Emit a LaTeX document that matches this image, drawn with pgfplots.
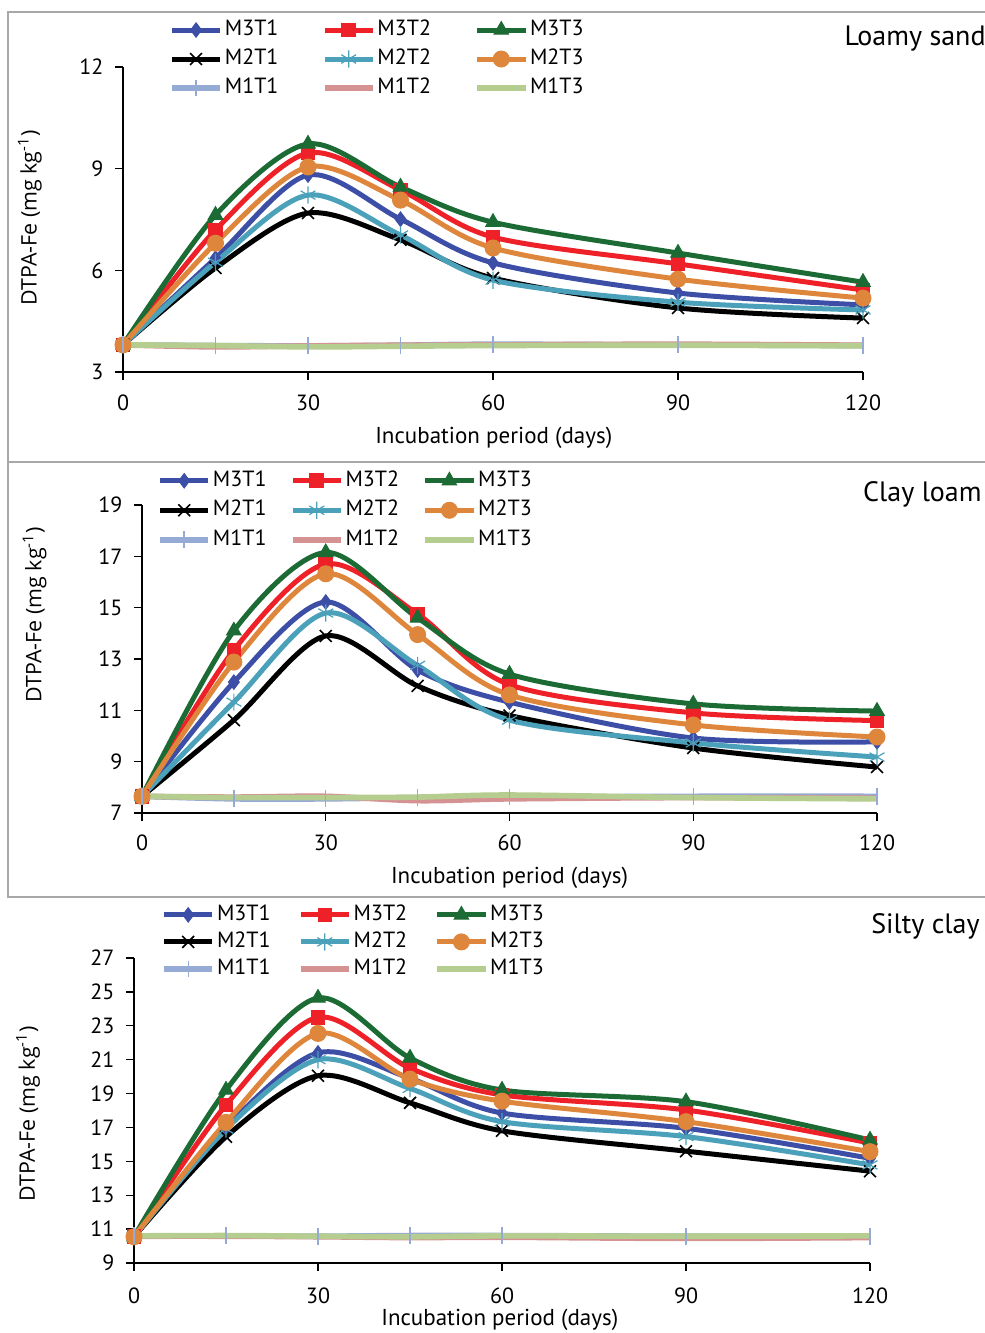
\documentclass[border=0pt]{standalone}
\usepackage{fontspec}
\setmainfont{PT Sans}
\newfontfamily\ylabfont{Open Sans}
\usepackage{pgfplots}
\pgfplotsset{compat=1.18}
\definecolor{cA}{HTML}{3C4EA5}
\definecolor{cB}{HTML}{EE2028}
\definecolor{cC}{HTML}{1C6B34}
\definecolor{cD}{HTML}{000000}
\definecolor{cE}{HTML}{4BA1BA}
\definecolor{cF}{HTML}{DE873C}
\definecolor{cG}{HTML}{95AAD5}
\definecolor{cH}{HTML}{D49292}
\definecolor{cI}{HTML}{B5CD8F}
\definecolor{frame}{HTML}{A8A8A8}
\pgfplotsset{
 panel/.style={
  scale only axis,
  axis x line*=bottom, axis y line*=left,
  tick align=outside,
  major tick length=4pt,
  every tick/.style={black, line width=0.7pt},
  axis line style={black, line width=1pt},
  xmin=0, xmax=120, xtick={0,30,60,90,120},
  clip=false,
  tick label style={font=\fontsize{11}{13}\selectfont},
  /pgf/number format/assume math mode=true,
  xlabel={Incubation period (days)},
  xlabel style={font=\fontsize{11.5}{13}\selectfont, anchor=center},
  ylabel={\ylabfont DTPA-Fe (mg kg\textsuperscript{-1})},
  ylabel style={font=\fontsize{10.7}{12}\selectfont, anchor=center},
  yticklabel style={xshift=-2.3pt},
  legend columns=3,
  legend cell align=left,
  legend style={draw=none, fill=none, anchor=north west, inner sep=0pt,
    font=\fontsize{11}{13}\selectfont, column sep=0pt,
    /tikz/every odd column/.append style={column sep=1pt}},
  legend image code/.code={\draw[mark repeat=2,mark phase=2,#1] plot coordinates {(0pt,0pt) (12pt,0pt) (24pt,0pt)};},
 },
 sA/.style={color=cA, line width=2.5pt, smooth, tension=0.5, mark=diamond*, mark size=3.6pt, mark options={line width=0.5pt, fill=cA}},
 sB/.style={color=cB, line width=2.5pt, smooth, tension=0.5, mark=square*, mark size=3.4pt, mark options={line width=0.5pt, fill=cB}},
 sC/.style={color=cC, line width=2.5pt, smooth, tension=0.5, mark=triangle*, mark size=4.2pt, mark options={line width=0.5pt, fill=cC}},
 sD/.style={color=cD, line width=2.5pt, smooth, tension=0.5, mark=x, mark size=4.2pt, mark options={line width=0.8pt}},
 sE/.style={color=cE, line width=2.5pt, smooth, tension=0.5, mark=asterisk, mark size=4.3pt, mark options={line width=0.6pt}},
 sF/.style={color=cF, line width=2.5pt, smooth, tension=0.5, mark=*, mark size=4pt, mark options={line width=0.5pt, fill=cF}},
 sG/.style={color=cG, line width=2.8pt, smooth, tension=0.5, mark=|, mark size=4.2pt, mark options={line width=0.7pt}},
 sH/.style={color=cH, line width=2.8pt, smooth, tension=0.5},
 sI/.style={color=cI, line width=2.8pt, smooth, tension=0.5},
}
\pgfplotstableread{
x   A     B     C     D     E     F     G     H     I
0   3.80  3.80  3.80  3.80  3.80  3.80  3.80  3.80  3.80
15  6.36  7.19  7.63  6.07  6.24  6.80  3.78  3.74  3.78
30  8.81  9.46  9.73  7.69  8.22  9.05  3.77  3.77  3.74
45  7.51  8.37  8.46  6.90  7.04  8.07  3.79  3.79  3.76
60  6.22  6.98  7.42  5.77  5.71  6.66  3.82  3.80  3.78
90  5.33  6.19  6.51  4.89  5.06  5.74  3.80  3.82  3.79
120 4.98  5.42  5.65  4.59  4.83  5.18  3.78  3.79  3.77
}\loamy
\pgfplotstableread{
x   A     B     C     D     E     F     G     H     I
0   7.65  7.65  7.65  7.65  7.65  7.65  7.65  7.65  7.65
15  12.10 13.35 14.10 10.62 11.32 12.88 7.55  7.62  7.60
30  15.22 16.70 17.15 13.90 14.79 16.32 7.55  7.65  7.60
45  12.57 14.75 14.60 11.95 12.75 13.95 7.60  7.48  7.62
60  11.32 12.00 12.41 10.80 10.62 11.60 7.62  7.55  7.70
90  9.92  10.90 11.25 9.53  9.73  10.43 7.65  7.60  7.60
120 9.77  10.60 10.97 8.79  9.18  9.96  7.65  7.58  7.55
}\clay
\pgfplotstableread{
x   A     B     C     D     E     F     G     H     I
0   10.55 10.55 10.55 10.55 10.55 10.55 10.60 10.58 10.60
15  17.00 18.33 19.21 16.45 16.90 17.30 10.60 10.58 10.62
30  21.40 23.50 24.64 20.05 21.00 22.55 10.58 10.55 10.58
45  19.90 20.50 21.10 18.45 19.30 19.85 10.62 10.50 10.55
60  17.85 18.92 19.21 16.80 17.34 18.55 10.62 10.52 10.60
90  16.95 18.03 18.52 15.60 16.46 17.34 10.58 10.45 10.58
120 15.18 16.08 16.26 14.42 14.79 15.57 10.58 10.50 10.60
}\silty
\begin{document}
\begin{tikzpicture}
\useasboundingbox (0,0) rectangle (492.5pt,666.5pt);
\draw[frame, line width=1pt] (4pt,435.5pt) rectangle (500pt,660.5pt);
\draw[frame, line width=1pt] (4pt,218pt) rectangle (500pt,435.5pt);
\node[anchor=base east, font=\fontsize{14}{16}\selectfont, inner sep=0pt] at (493pt,643.5pt) {Loamy sand};
\node[anchor=base east, font=\fontsize{14}{16}\selectfont, inner sep=0pt] at (491pt,415.5pt) {Clay loam};
\node[anchor=base east, font=\fontsize{14}{16}\selectfont, inner sep=0pt] at (490pt,199.5pt) {Silty clay};
% Panel 1
\begin{axis}[panel, at={(61.5pt,480.5pt)}, anchor=origin,
  width=370pt, height=152.5pt, ymin=3, ymax=12, ytick={3,6,9,12},
  xlabel style={at={(axis description cs:0.501,-0.216)}},
  ylabel style={at={(axis description cs:-0.126,0.505)}},
  xticklabel style={yshift=-4pt},
  legend style={at={(axis description cs:0.062,1.157)}, row sep=4pt,
    nodes={inner sep=0pt, text height=8pt, text depth=2.5pt, text width=48.5pt}}]
\addplot[sA] table[x=x,y=A]{\loamy}; \addlegendentry{M3T1}
\addplot[sB] table[x=x,y=B]{\loamy}; \addlegendentry{M3T2}
\addplot[sC] table[x=x,y=C]{\loamy}; \addlegendentry{M3T3}
\addplot[sD] table[x=x,y=D]{\loamy}; \addlegendentry{M2T1}
\addplot[sE] table[x=x,y=E]{\loamy}; \addlegendentry{M2T2}
\addplot[sF] table[x=x,y=F]{\loamy}; \addlegendentry{M2T3}
\addplot[sG] table[x=x,y=G]{\loamy}; \addlegendentry{M1T1}
\addplot[sH] table[x=x,y=H]{\loamy}; \addlegendentry{M1T2}
\addplot[sI] table[x=x,y=I]{\loamy}; \addlegendentry{M1T3}
\end{axis}
% Panel 2
\begin{axis}[panel, at={(71pt,260pt)}, anchor=origin,
  width=367.5pt, height=154pt, ymin=7, ymax=19, ytick={7,9,11,13,15,17,19},
  xlabel style={at={(axis description cs:0.5,-0.211)}},
  ylabel style={at={(axis description cs:-0.146,0.643)}},
  xticklabel style={yshift=-3.3pt},
  legend style={at={(axis description cs:0.0204,1.114)}, row sep=4.25pt,
    nodes={inner sep=0pt, text height=8pt, text depth=2.5pt, text width=38.5pt}}]
\addplot[sA] table[x=x,y=A]{\clay}; \addlegendentry{M3T1}
\addplot[sB] table[x=x,y=B]{\clay}; \addlegendentry{M3T2}
\addplot[sC] table[x=x,y=C]{\clay}; \addlegendentry{M3T3}
\addplot[sD] table[x=x,y=D]{\clay}; \addlegendentry{M2T1}
\addplot[sE] table[x=x,y=E]{\clay}; \addlegendentry{M2T2}
\addplot[sF] table[x=x,y=F]{\clay}; \addlegendentry{M2T3}
\addplot[sG] table[x=x,y=G]{\clay}; \addlegendentry{M1T1}
\addplot[sH] table[x=x,y=H]{\clay}; \addlegendentry{M1T2}
\addplot[sI] table[x=x,y=I]{\clay}; \addlegendentry{M1T3}
\end{axis}
% Panel 3
\begin{axis}[panel, at={(67pt,35pt)}, anchor=origin,
  width=368pt, height=152.5pt, ymin=9, ymax=27, ytick={9,11,13,15,17,19,21,23,25,27},
  xlabel style={at={(axis description cs:0.497,-0.187)}},
  ylabel style={at={(axis description cs:-0.144,0.489)}},
  xticklabel style={yshift=-5pt},
  legend style={at={(axis description cs:0.0367,1.177)}, row sep=3pt,
    nodes={inner sep=0pt, text height=8pt, text depth=2.5pt, text width=40.5pt}}]
\addplot[sA] table[x=x,y=A]{\silty}; \addlegendentry{M3T1}
\addplot[sB] table[x=x,y=B]{\silty}; \addlegendentry{M3T2}
\addplot[sC] table[x=x,y=C]{\silty}; \addlegendentry{M3T3}
\addplot[sD] table[x=x,y=D]{\silty}; \addlegendentry{M2T1}
\addplot[sE] table[x=x,y=E]{\silty}; \addlegendentry{M2T2}
\addplot[sF] table[x=x,y=F]{\silty}; \addlegendentry{M2T3}
\addplot[sG] table[x=x,y=G]{\silty}; \addlegendentry{M1T1}
\addplot[sH] table[x=x,y=H]{\silty}; \addlegendentry{M1T2}
\addplot[sI] table[x=x,y=I]{\silty}; \addlegendentry{M1T3}
\end{axis}
\end{tikzpicture}
\end{document}
